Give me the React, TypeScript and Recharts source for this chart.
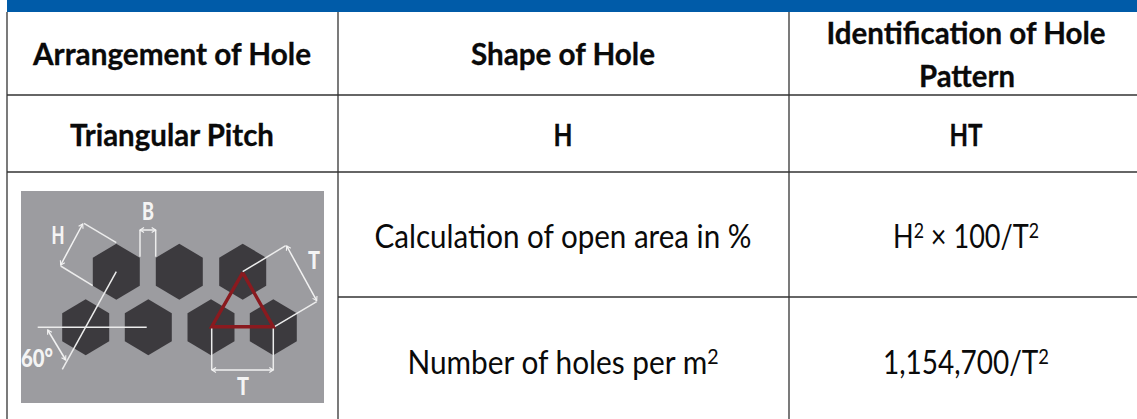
import { ScatterChart, Scatter, XAxis, YAxis, ReferenceArea, ReferenceLine } from 'recharts';

const WIDTH = 1137;
const HEIGHT = 419;

// table layout in pixels
const columnLines = [7, 338, 789];
const rowLines = [95, 172];
const lowerRowLine = 297;

const headerCells = [
  { label: 'Arrangement of Hole', x: 172, y: 54, fit: 278 },
  { label: 'Shape of Hole', x: 563, y: 54, fit: 184 },
  { label: 'Identification of Hole', x: 966, y: 33, fit: 279 },
  { label: 'Pattern', x: 967, y: 76, fit: 96 },
  { label: 'Triangular Pitch', x: 172, y: 135, fit: 204 },
  { label: 'H', x: 563, y: 135, fit: 19 },
  { label: 'HT', x: 966, y: 135, fit: 33 },
];
const bodyCells = [
  { label: 'Calculation of open area in %', x: 563, y: 237, fit: 377 },
  { label: 'H^2 × 100/T^2', x: 966, y: 237, fit: 146 },
  { label: 'Number of holes per m^2', x: 563, y: 363, fit: 311 },
  { label: '1,154,700/T^2', x: 966, y: 363, fit: 166 },
];

// hole pattern diagram
const topHoles = [116.3, 179.3, 242.7].map((x) => ({ x, y: 271.7 }));
const bottomHoles = [85.7, 148.3, 211, 273.3].map((x) => ({ x, y: 327.3 }));
const triangle = [
  { x: 242.7, y: 272.7 },
  { x: 211.7, y: 326.7 },
  { x: 273.3, y: 326.7 },
  { x: 242.7, y: 272.7 },
];
const witnessLines = [
  [[116.3, 242.7], [84, 223.3]],
  [[92.7, 285.7], [60.7, 266]],
  [[140, 256.7], [140, 230]],
  [[155.7, 256.7], [155.7, 230]],
  [[116.3, 271.7], [62.3, 369.3]],
  [[37.7, 327.3], [146.7, 327.3]],
  [[242.7, 271.7], [285.7, 245.7]],
  [[273.3, 327.3], [316.7, 301.7]],
  [[211.7, 327.3], [211.7, 370]],
  [[273.3, 327.3], [273.3, 370]],
];
const dimensionLines = [
  [[82.7, 224], [60.7, 265]],
  [[140, 230], [155.7, 230]],
  [[47.7, 330], [65.7, 360]],
  [[286.7, 246], [316.7, 300.7]],
  [[212, 370], [273.3, 370]],
];
const diagramLabels = [
  { label: 'H', x: 58, y: 236, fit: 13 },
  { label: 'B', x: 148, y: 212, fit: 12 },
  { label: 'T', x: 314, y: 261, fit: 12 },
  { label: '60°', x: 37, y: 359, fit: 32 },
  { label: 'T', x: 243, y: 387, fit: 12 },
];

const toPoints = (segment: number[][]) => segment.map(([x, y]) => ({ x, y }));

const arrowHeads = (segment: number[][]) => {
  const [[x1, y1], [x2, y2]] = segment;
  const len = Math.hypot(x2 - x1, y2 - y1);
  const ux = (x2 - x1) / len;
  const uy = (y2 - y1) / len;
  const head = (x: number, y: number, s: number) => [
    { x: x + s * 4 * ux - 2.5 * uy, y: y + s * 4 * uy + 2.5 * ux },
    { x, y },
    { x: x + s * 4 * ux + 2.5 * uy, y: y + s * 4 * uy - 2.5 * ux },
  ];
  return [head(x1, y1, 1), head(x2, y2, -1)];
};

const Nothing = () => null;

const Hexagon = ({ cx, cy }: any) => {
  const w = 23.5;
  const h = 28;
  const d = `M${cx} ${cy - h}L${cx + w} ${cy - h / 2}L${cx + w} ${cy + h / 2}L${cx} ${cy + h}L${cx - w} ${cy + h / 2}L${cx - w} ${cy - h / 2}Z`;
  return <path d={d} fill="#3c3a3e" />;
};

const makeLabel = (style: any) => ({ cx, cy, payload }: any) => {
  const parts = payload.label.split(/\^(\d)/);
  return (
    <text
      x={cx}
      y={cy + style.fontSize * 0.35}
      textAnchor="middle"
      textLength={payload.fit}
      lengthAdjust="spacingAndGlyphs"
      {...style}
    >
      {parts.map((part: string, i: number) =>
        i % 2 === 1 ? (
          <tspan key={i} dy={-10} fontSize={21}>{part}</tspan>
        ) : (
          <tspan key={i} dy={i > 0 ? 10 : 0}>{part}</tspan>
        )
      )}
    </text>
  );
};

const HeaderLabel = makeLabel({ fontFamily: 'Lato', fontWeight: 700, fontSize: 30, fill: '#0a0a0a', stroke: '#0a0a0a', strokeWidth: 0.3 });
const BodyLabel = makeLabel({ fontFamily: 'Lato', fontWeight: 400, fontSize: 32, fill: '#0a0a0a' });
const DiagramLabel = makeLabel({ fontFamily: 'Lato', fontWeight: 900, fontSize: 24, fill: '#f4f4f4' });

export default function App() {
  return (
    <div style={{ position: 'absolute', left: 0, top: 0, width: WIDTH, height: HEIGHT, background: '#fff' }}>
      <ScatterChart width={WIDTH} height={HEIGHT} margin={{ top: 0, right: 0, bottom: 0, left: 0 }}>
        <XAxis type="number" dataKey="x" domain={[0, WIDTH]} hide />
        <YAxis type="number" dataKey="y" domain={[0, HEIGHT]} reversed hide />

        <ReferenceArea x1={7} x2={WIDTH} y1={0} y2={12} fill="#005ba8" fillOpacity={1} stroke="none" />
        <ReferenceArea x1={21} x2={324} y1={191} y2={403} fill="#9c9ca0" fillOpacity={1} stroke="none" />

        {columnLines.map((x) => (
          <ReferenceLine key={x} segment={[{ x, y: 12 }, { x, y: HEIGHT }]} stroke="#222" strokeWidth={1.2} />
        ))}
        {rowLines.map((y) => (
          <ReferenceLine key={y} segment={[{ x: 7, y }, { x: WIDTH, y }]} stroke="#333" strokeWidth={1.5} />
        ))}
        <ReferenceLine segment={[{ x: 338, y: lowerRowLine }, { x: WIDTH, y: lowerRowLine }]} stroke="#333" strokeWidth={1.5} />

        <Scatter data={[...topHoles, ...bottomHoles]} shape={Hexagon} isAnimationActive={false} />

        {witnessLines.map((segment, i) => (
          <Scatter
            key={`w${i}`}
            data={toPoints(segment)}
            line={{ stroke: '#ececec', strokeWidth: 1.5 }}
            shape={Nothing}
            isAnimationActive={false}
          />
        ))}
        {dimensionLines.map((segment, i) => (
          <Scatter
            key={`d${i}`}
            data={toPoints(segment)}
            line={{ stroke: '#f2f2f2', strokeWidth: 1.5 }}
            shape={Nothing}
            isAnimationActive={false}
          />
        ))}
        {dimensionLines.flatMap((segment, i) =>
          arrowHeads(segment).map((head, j) => (
            <Scatter
              key={`a${i}-${j}`}
              data={head}
              line={{ stroke: '#f2f2f2', strokeWidth: 1.1 }}
              shape={Nothing}
              isAnimationActive={false}
            />
          ))
        )}
        <Scatter
          data={triangle}
          line={{ stroke: '#8a1a1f', strokeWidth: 3.4 }}
          shape={Nothing}
          isAnimationActive={false}
        />

        <Scatter data={diagramLabels} shape={DiagramLabel} isAnimationActive={false} />
        <Scatter data={headerCells} shape={HeaderLabel} isAnimationActive={false} />
        <Scatter data={bodyCells} shape={BodyLabel} isAnimationActive={false} />
      </ScatterChart>
    </div>
  );
}
